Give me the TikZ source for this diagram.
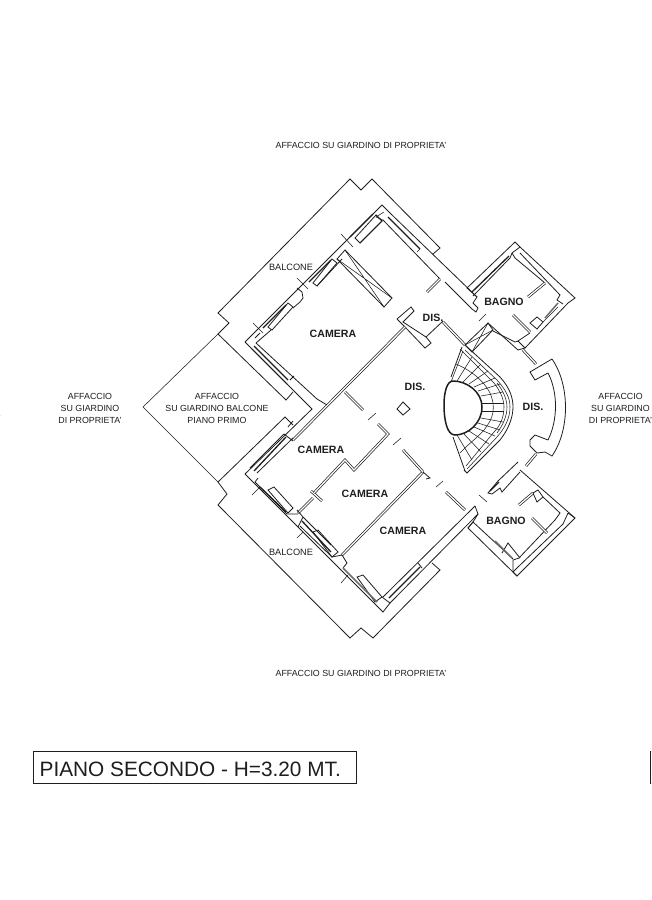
\documentclass[tikz,border=0pt]{standalone}
\usepackage{fontspec}
\setmainfont{Liberation Sans}
\definecolor{ink}{HTML}{1E1E1E}
\tikzset{
  wall/.style={draw=ink,line width=0.8pt,line join=miter},
  heavy/.style={draw=ink,line width=1.3pt},
  grayheavy/.style={draw=ink!65,line width=1.5pt},
  thin/.style={draw=ink,line width=0.55pt},
  dbl/.style={draw=ink,line width=2.7pt,postaction={draw=white,line width=1.3pt}},
  lbl/.style={font=\fontsize{9.2}{10}\selectfont,text=ink,inner sep=0pt,align=center},
  small/.style={font=\fontsize{8.85}{12}\selectfont,text=ink,inner sep=0pt,align=center},
  room/.style={font=\bfseries\fontsize{10.6}{12}\selectfont,text=ink,inner sep=0pt}
}
\begin{document}
\begin{tikzpicture}[x=1pt,y=-1pt]
\useasboundingbox (0,0) rectangle (651,900);
\clip (0,0) rectangle (651,900);
\fill[white] (0,0) rectangle (651,900);
% ---------- balconies and terrace
\draw[wall] (293,392) -- (286,400) -- (218,334) -- (229,323) -- (218,313) -- (350,179) -- (361,190) -- (372,179) -- (440,248) -- (433,254);
\draw[thin] (218,334) -- (143,407) -- (218,482);
\draw[wall] (293,425) -- (285,417) -- (218,482) -- (227,494) -- (218,505) -- (350,638) -- (361,628) -- (373,638) -- (440,570) -- (432,563);
% ---------- outer wall, upper-left room
\draw[wall] (245,342) -- (382,205) -- (390,213) -- (477,297) -- (473,303) -- (478,308) -- (476,312) -- (472,309) -- (445,282);
\draw[wall] (383,220) -- (440,279);
\draw[heavy] (388,217) -- (420,249);
\draw[thin] (384,212) -- (376,217) -- (383,220) (420,249) -- (417,252);
\draw[dbl] (440,279) -- (427,292);
\draw[wall] (245,342) -- (312,409) -- (245,474);
\draw[wall] (256,343) -- (317,399) -- (327,405);
\draw[wall] (252,349) -- (287,384) (290,380) -- (294,376);
\draw[heavy] (254,346) -- (288,380);
% wall line towards the top corner
\draw[wall] (256,343) -- (271,330) (293,308) -- (300,302) -- (303,298) -- (302,292) -- (297,288);
\draw[wall] (317,286) -- (342,259) (360,243) -- (382,221) -- (376,215);
\draw[wall] (255,338) -- (260,333);
\draw[wall] (268,327) -- (272,330) -- (293,307) -- (288,303) -- cycle;
\draw[heavy] (263,328) -- (286,305);
\draw[wall] (313,283) -- (317,286) -- (337,263) -- (332,259) -- cycle;
\draw[heavy] (309,282) -- (331,260);
\draw[wall] (355,238) -- (360,243) -- (382,221) -- (376,215) -- cycle;
\draw[heavy] (350,237) -- (373,214);
\draw[thin] (253,323) -- (263,333) (297,278) -- (308,289) (341,234) -- (353,247);
% X window
\draw[wall] (345,250) -- (392,298) -- (384,307) -- (337,259) -- cycle;
\draw[thin] (345,250) -- (384,307) (337,259) -- (392,298);
% ---------- corridor walls
\draw[wall] (397,319) -- (411,307) -- (414,311) -- (403,322) -- (426,337) -- (443,321);
\draw[wall] (397,319) -- (405,327) -- (425,348) -- (431,343) -- (426,337);
\draw[dbl] (405,327) -- (293,440);
\draw[dbl] (443,322) -- (465,345);
\draw[thin] (479,321) -- (486,314);
\draw[dbl] (345,392) -- (363,410);
\draw[thin] (368,420) -- (376,413) (393,445) -- (401,438) (436,487) -- (443,481) (479,495) -- (487,502);
\draw[wall] (403,402) -- (410,409) -- (403,415) -- (397,409) -- cycle;
% ---------- lower-left rooms
\draw[wall] (250,468) -- (284,434);
\draw[heavy] (254,471) -- (286,437);
\draw[wall] (257,473) -- (293,438) (284,434) -- (293,441);
\draw[wall] (288,427) -- (293,421);
\draw[wall] (245,474) -- (383,612) -- (390,603) -- (382,597);
\draw[wall] (255,482) -- (287,514) -- (298,514) (255,482) -- (258,478);
\draw[wall] (268,490) -- (274,487) -- (293,508) -- (288,513) -- cycle;
\draw[heavy] (260,487) -- (286,512);
\draw[thin] (252,495) -- (260,487) (297,538) -- (303,532) (341,583) -- (348,575);
% partition walls
\draw[dbl] (298,513) -- (313,498);
\draw[dbl] (311,491) -- (322,501);
\draw[dbl,line join=miter] (314,493) -- (345,460) -- (354,470) -- (388,434) -- (378,424);
\draw[dbl] (342,555) -- (423,472);
\draw[dbl] (423,472) -- (403,450);
\draw[wall] (423,472) -- (430,478) -- (426,479);
% window lower room 2
\draw[wall] (297,510) -- (303,517) -- (298,527) (303,517) -- (331,545);
\draw[wall] (300,526) -- (332,557) -- (342,555) -- (347,563) -- (343,568);
\draw[wall] (313,532) -- (318,530) -- (338,552) -- (332,557) -- cycle;
\draw[heavy] (302,521) -- (331,552);
% window lower room 3
\draw[wall] (357,577) -- (363,575) -- (382,597) -- (375,602) -- cycle;
\draw[grayheavy] (343,568) -- (377,602);
\draw[wall] (383,597) -- (475,506);
\draw[wall] (390,603) -- (478,514);
\draw[heavy] (389,598) -- (420,567);
\draw[wall] (418,563) -- (422,568);
\draw[wall] (475,506) -- (478,514);
% ---------- upper bathroom
\draw[wall] (477,297) -- (467,288) -- (515,242) -- (520,247) -- (575,298) -- (568,303) -- (525,348) -- (518,341) -- (530,333);
\draw[wall] (473,296) -- (510,258) -- (512,253) -- (520,247);
\draw[heavy] (472,292) -- (509,256);
\draw[wall] (512,253) -- (515,258) -- (545,283);
\draw[dbl] (545,283) -- (528,297);
\draw[wall] (520,253) -- (560,295) -- (557,300) -- (563,304);
\draw[grayheavy] (545,318) -- (558,303);
\draw[thin] (543,322) -- (558,307);
\draw[wall] (530,323) -- (537,317) -- (543,322) -- (537,329) -- cycle;
\draw[dbl] (513,315) -- (530,332);
\draw[wall] (488,323) -- (518,350) -- (525,348);
\draw[wall] (493,331) -- (515,342) -- (518,341);
\draw[wall] (488,323) -- (465,345) -- (472,352) -- (493,330) -- cycle;
\draw[thin] (465,345) -- (493,330) (472,352) -- (488,323);
% ---------- curved distribution
\draw[dbl] (523,350) -- (536,364);
\draw[wall] (552,359) -- (530,372) -- (535,380) -- (548,373);
\draw[wall] (552,359) .. controls (570,385) and (570,430) .. (552,456) -- (545,452) -- (537,453) -- (530,446) -- (530,440) -- (535,435) -- (548,440);
\draw[wall] (548,373) .. controls (558,392) and (558,420) .. (548,440);
\draw[dbl] (536,454) -- (526,466);
\draw[wall] (518,462) -- (498,481) -- (488,493) -- (492,494) -- (500,488) -- (502,492) -- (520,472);
\draw[heavy] (490,491) -- (499,482);
% ---------- lower bathroom
\draw[wall] (520,470) -- (575,518) -- (517,576) -- (468,528) -- (473,522) -- (513,559);
\draw[dbl] (519,505) -- (533,493);
\draw[wall] (533,493) -- (538,490) -- (543,497) -- (537,502) -- cycle;
\draw[wall] (543,497) -- (560,513) -- (555,520);
\draw[wall] (555,520) -- (519,558) -- (513,560) -- (513,572) -- (517,576);
\draw[wall] (568,513) -- (575,518) (568,513) -- (563,524) -- (518,567) -- (513,572);
\draw[dbl] (532,518) -- (547,533);
\draw[wall] (502,553) -- (508,543) -- (520,558);
\draw[grayheavy] (495,541) -- (512,558);
\draw[wall] (468,528) -- (473,522) -- (478,514);
\draw[dbl] (446,492) -- (465,510);
% ---------- stairs
\draw[line width=1.5pt,draw=ink] (482,407) .. controls (482,392) and (467,381) .. (453,381) .. controls (447,381) and (444,392) .. (444,405) .. controls (444,420) and (447,435) .. (455,435) .. controls (468,435) and (482,423) .. (482,407) -- cycle;
\draw[wall] (465,345) -- (500,377) .. controls (510,388) and (513,398) .. (513,407) .. controls (513,418) and (508,430) .. (500,440) -- (467,473) -- (464,470);
\draw[thin] (465,350) -- (497,380) .. controls (506,390) and (510,398) .. (510,407) .. controls (510,418) and (505,428) .. (497,437) -- (467,469);
\draw[thin] (497,383) .. controls (504,392) and (507,400) .. (507,407) .. controls (507,416) and (503,425) .. (497,433);
\draw[thin] (460,349) -- (494,383) .. controls (501,392) and (504,400) .. (504,407) .. controls (504,416) and (501,425) .. (494,432) -- (466,466);
\draw[wall] (462,347) -- (451,377) (453,437) -- (465,471);
\draw[thin] plot[smooth] coordinates {(456,364) (466,369) (476,376) (484,384) (490,393) (493,403) (493,412) (490,421) (484,430) (476,438) (467,446) (460,453)};
\foreach \a/\b/\c/\d in {482/403/504/403, 481/396/503/392, 478/391/500/384, 474/387/495/378, 469/384/488/371, 463/382/481/364, 457/381/472/357, 451/382/463/351,
 482/411/504/411, 481/418/503/422, 478/423/500/430, 474/427/495/436, 469/431/489/444, 463/433/481/452, 457/435/472/460}
  \draw[thin] (\a,\b) -- (\c,\d);
% ---------- labels
\node[small] (topnote) at (361,145.5) {AFFACCIO SU GIARDINO DI PROPRIETA'};
\node[small] (botnote) at (361,673.5) {AFFACCIO SU GIARDINO DI PROPRIETA'};
\node[small] (leftnote) at (90,408) {AFFACCIO\\SU GIARDINO\\DI PROPRIETA'};
\node[small] (rightnote) at (620.5,408) {AFFACCIO\\SU GIARDINO\\DI PROPRIETA'};
\node[small] (terrace) at (217,408) {AFFACCIO\\SU GIARDINO BALCONE\\PIANO PRIMO};
\node[lbl] (balc1) at (291,267) {BALCONE};
\node[lbl] (balc2) at (291,552) {BALCONE};
\node[room] (cam1) at (333,334) {CAMERA};
\node[room] (cam2) at (321,450) {CAMERA};
\node[room] (cam3) at (365,494) {CAMERA};
\node[room] (cam4) at (403,531) {CAMERA};
\node[room] (bagno1) at (504,302) {BAGNO};
\node[room] (bagno2) at (506,521) {BAGNO};
\node[room] (dis1) at (433,318) {DIS.};
\node[room] (dis2) at (415,387) {DIS.};
\node[room] (dis3) at (533,407) {DIS.};
% title
\node[draw=ink,line width=.9pt,minimum width=323pt,minimum height=32pt,inner sep=0pt] (title) at (194.5,767) {};
\node[font=\fontsize{20.8}{24}\selectfont,text=ink,inner sep=0pt,anchor=west] (titletext) at (39.5,769) {PIANO SECONDO - H=3.20 MT.};
\draw[draw=ink,line width=.9pt] (652,751) -- (650,751) -- (650,783) -- (652,783);
\node[font=\fontsize{7}{8}\selectfont,text=ink,inner sep=0pt] (edgemark) at (0,418) {'};
\end{tikzpicture}
\end{document}
